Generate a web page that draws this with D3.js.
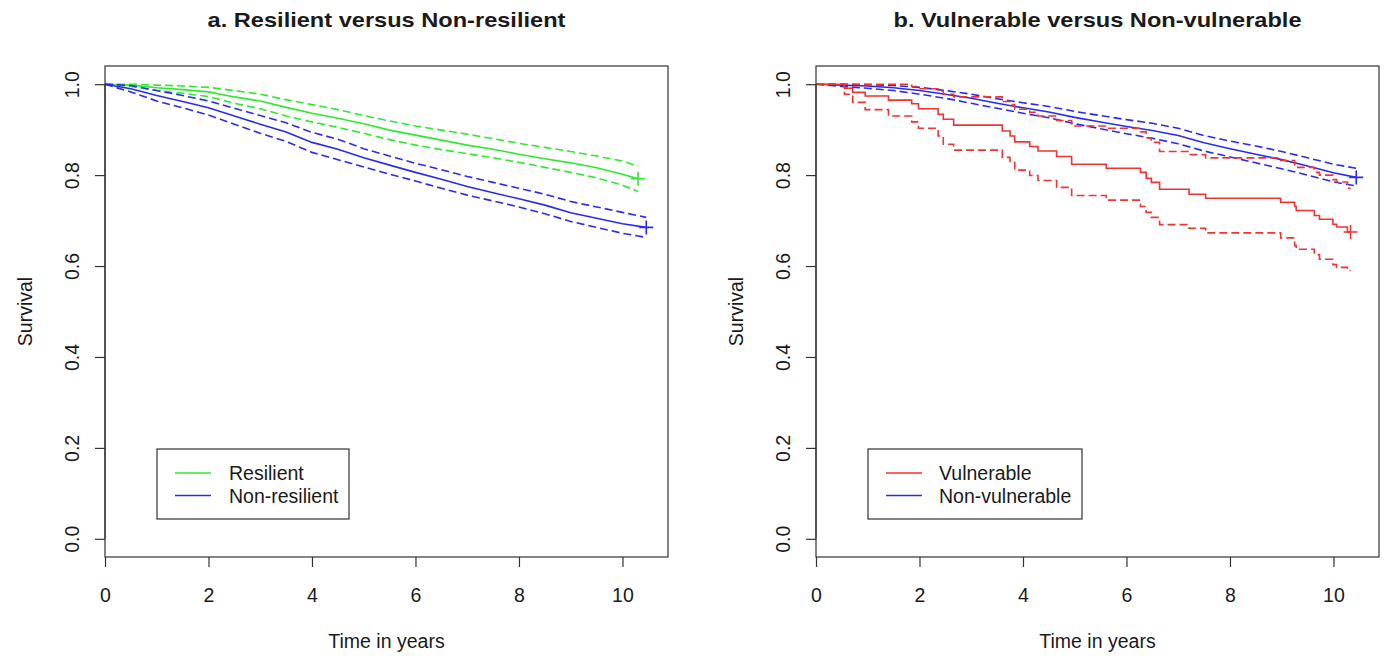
<!DOCTYPE html>
<html><head><meta charset="utf-8">
<script src="https://cdn.jsdelivr.net/npm/d3@7"></script>
<style>body{margin:0;background:#fff;} svg{display:block;} text{font-family:"Liberation Sans",Arial,sans-serif;fill:#1a1a1a;}</style>
</head><body><svg id="c" width="1384" height="662"></svg>
<script>
// ---------- data ----------
const xTicks = [0, 2, 4, 6, 8, 10];
const yTicks = [0.0, 0.2, 0.4, 0.6, 0.8, 1.0];
const titles = ["a. Resilient versus Non-resilient", "b. Vulnerable versus Non-vulnerable"];

// panel a
const resilientTime    = [0,0.5,1,1.5,2,2.5,3,3.5,4,4.5,5,5.5,6,6.5,7,7.5,8,8.5,9,9.5,10,10.3];
const resilientSurv    = [1.0,0.998,0.992,0.988,0.983,0.972,0.963,0.949,0.936,0.925,0.913,0.899,0.888,0.877,0.866,0.857,0.846,0.836,0.827,0.816,0.802,0.792];
const resilientUpper   = [1.0,1.0,0.998,0.996,0.993,0.986,0.978,0.966,0.955,0.944,0.931,0.919,0.908,0.899,0.89,0.88,0.87,0.861,0.852,0.842,0.831,0.82];
const resilientLower   = [1.0,0.995,0.986,0.98,0.973,0.958,0.946,0.93,0.917,0.905,0.892,0.878,0.866,0.856,0.847,0.838,0.828,0.817,0.806,0.794,0.778,0.764];
const nonResilientTime = [0,0.5,1,1.5,2,2.5,3,3.5,4,4.5,5,5.5,6,6.5,7,7.5,8,8.5,9,9.5,10,10.46];
const nonResilientSurv = [1.0,0.99,0.975,0.962,0.948,0.93,0.912,0.895,0.872,0.857,0.838,0.822,0.806,0.791,0.775,0.761,0.748,0.734,0.717,0.705,0.693,0.685];
const nonResilientUpper= [1.0,0.997,0.986,0.975,0.963,0.947,0.931,0.915,0.894,0.879,0.858,0.842,0.826,0.812,0.797,0.784,0.771,0.758,0.742,0.73,0.718,0.707];
const nonResilientLower= [1.0,0.983,0.963,0.948,0.932,0.912,0.892,0.874,0.85,0.834,0.818,0.802,0.787,0.771,0.756,0.743,0.73,0.715,0.698,0.685,0.672,0.663];

// panel b
const vulnerableTime  = [0,0.55,0.71,0.95,1.40,1.85,1.98,2.36,2.46,2.66,3.60,3.75,3.84,4.13,4.29,4.65,4.94,5.61,6.27,6.38,6.48,6.64,7.21,7.53,8.98,9.25,9.28,9.63,9.73,9.99,10.06,10.27,10.33];
const vulnerableSurv  = [1.0,0.991,0.982,0.974,0.965,0.957,0.946,0.934,0.923,0.91,0.897,0.886,0.873,0.863,0.853,0.841,0.824,0.815,0.806,0.793,0.784,0.769,0.758,0.749,0.74,0.731,0.722,0.711,0.703,0.692,0.686,0.675,0.675];
const vulnerableUpper = [1.0,1.0,1.0,1.0,1.0,0.995,0.99,0.985,0.978,0.972,0.962,0.955,0.945,0.938,0.93,0.92,0.908,0.903,0.895,0.882,0.872,0.852,0.845,0.838,0.832,0.823,0.817,0.806,0.80,0.79,0.785,0.771,0.771];
const vulnerableLower = [1.0,0.978,0.96,0.944,0.93,0.917,0.903,0.886,0.868,0.855,0.839,0.828,0.811,0.799,0.788,0.773,0.755,0.745,0.731,0.718,0.707,0.691,0.683,0.673,0.662,0.645,0.637,0.625,0.615,0.603,0.597,0.59,0.59];
const nonVulnerableTime  = [0,0.5,1,1.5,2,2.5,3,3.5,4,4.5,5,5.5,6,6.5,7,7.5,8,8.5,9,9.5,10,10.44];
const nonVulnerableSurv  = [1.0,0.998,0.996,0.992,0.986,0.978,0.969,0.958,0.948,0.939,0.927,0.917,0.907,0.898,0.887,0.871,0.858,0.846,0.834,0.82,0.805,0.795];
const nonVulnerableUpper = [1.0,1.0,0.999,0.997,0.993,0.986,0.978,0.968,0.959,0.951,0.94,0.931,0.922,0.914,0.903,0.887,0.875,0.864,0.852,0.838,0.824,0.815];
const nonVulnerableLower = [1.0,0.995,0.991,0.986,0.978,0.969,0.958,0.947,0.936,0.926,0.913,0.902,0.891,0.881,0.869,0.853,0.84,0.827,0.814,0.8,0.785,0.776];

const GREEN = "#30e830", BLUE = "#2b2bf0", RED = "#f03434";

const panels = [
  { left: 105, title: titles[0], legend: {x:157, y:449, w:192, h:70, lineX:175, textX:229},
    series: [
      {name:"Resilient", color:GREEN, t:resilientTime, s:resilientSurv, u:resilientUpper, l:resilientLower, step:false, legendOrder:0},
      {name:"Non-resilient", color:BLUE, t:nonResilientTime, s:nonResilientSurv, u:nonResilientUpper, l:nonResilientLower, step:false, legendOrder:1}
    ]},
  { left: 816, title: titles[1], legend: {x:868, y:449, w:214, h:70, lineX:886, textX:939},
    series: [
      {name:"Non-vulnerable", color:BLUE, t:nonVulnerableTime, s:nonVulnerableSurv, u:nonVulnerableUpper, l:nonVulnerableLower, step:false, legendOrder:1},
      {name:"Vulnerable", color:RED, t:vulnerableTime, s:vulnerableSurv, u:vulnerableUpper, l:vulnerableLower, step:true, legendOrder:0}
    ]}
];

const svg = d3.select("#c");
const PW = 563, PTOP = 66, PBOT = 557, FS = "19.5px";

panels.forEach(p => {
  const x = d3.scaleLinear().domain([0, 10.88]).range([p.left, p.left + PW]);
  const y = d3.scaleLinear().domain([-0.04, 1.04]).range([PBOT, PTOP]);
  const g = svg.append("g");

  g.append("text").attr("transform", `translate(${p.left + PW/2},27) scale(1.18,1)`).attr("text-anchor","middle")
    .style("font-size","20px").style("font-weight","bold").text(p.title);

  p.series.forEach(sr => {
    const pts = k => sr.t.map((t,i) => [t, sr[k][i]]);
    const line = d3.line().x(d => x(d[0])).y(d => y(d[1])).curve(sr.step ? d3.curveStepAfter : d3.curveLinear);
    ["u","l"].forEach(k => g.append("path").attr("d", line(pts(k))).attr("fill","none")
      .attr("stroke", sr.color).attr("stroke-width",1.6).attr("stroke-dasharray","8,4"));
    g.append("path").attr("d", line(pts("s"))).attr("fill","none").attr("stroke", sr.color).attr("stroke-width",1.6);
    const n = sr.t.length - 1, cx = x(sr.t[n]), cy = y(sr.s[n]);
    g.append("path").attr("d", `M${cx-7},${cy}H${cx+7}M${cx},${cy-7}V${cy+7}`).attr("stroke", sr.color).attr("stroke-width",1.6);
  });

  g.append("rect").attr("x", p.left).attr("y", PTOP).attr("width", PW).attr("height", PBOT-PTOP)
    .attr("fill","none").attr("stroke","#333").attr("stroke-width",1.2);

  const xa = g.append("g").attr("transform", `translate(0,${PBOT})`)
    .call(d3.axisBottom(x).tickValues(xTicks).tickSize(10).tickPadding(21).tickFormat(d3.format("d")));
  xa.select(".domain").remove();
  xa.selectAll("line").attr("stroke","#333").attr("stroke-width",1.2);
  xa.selectAll("text").style("font-size",FS).attr("fill","#1a1a1a");

  const ya = g.append("g").attr("transform", `translate(${p.left},0)`)
    .call(d3.axisLeft(y).tickValues(yTicks).tickSize(10).tickFormat(d3.format(".1f")));
  ya.select(".domain").attr("d", `M0,${y(0)}V${y(1)}`).attr("stroke","#333").attr("stroke-width",1.2);
  ya.selectAll("line").attr("stroke","#333").attr("stroke-width",1.2);
  ya.selectAll("text").attr("x", 0).attr("y", -33).attr("dy", null).attr("transform","rotate(-90)")
    .attr("text-anchor","middle").attr("dominant-baseline","central").style("font-size",FS).attr("fill","#1a1a1a");

  g.append("text").attr("x", p.left + PW/2).attr("y", 648).attr("text-anchor","middle").style("font-size",FS).text("Time in years");
  g.append("text").attr("transform", `translate(${p.left-80},${y(0.5)}) rotate(-90)`).attr("text-anchor","middle")
    .attr("dominant-baseline","central").style("font-size",FS).text("Survival");

  const L = p.legend;
  g.append("rect").attr("x", L.x).attr("y", L.y).attr("width", L.w).attr("height", L.h).attr("fill","#fff").attr("stroke","#333").attr("stroke-width",1.2);
  const ordered = p.series.slice().sort((a,b) => a.legendOrder - b.legendOrder);
  ordered.forEach((sr,i) => {
    const ly = L.y + 24 + i*22.5;
    g.append("line").attr("x1", L.lineX).attr("x2", L.lineX+36).attr("y1", ly).attr("y2", ly).attr("stroke", sr.color).attr("stroke-width",1.6);
    g.append("text").attr("x", L.textX).attr("y", ly).attr("dominant-baseline","central").style("font-size",FS).text(sr.name);
  });
});
</script></body></html>
